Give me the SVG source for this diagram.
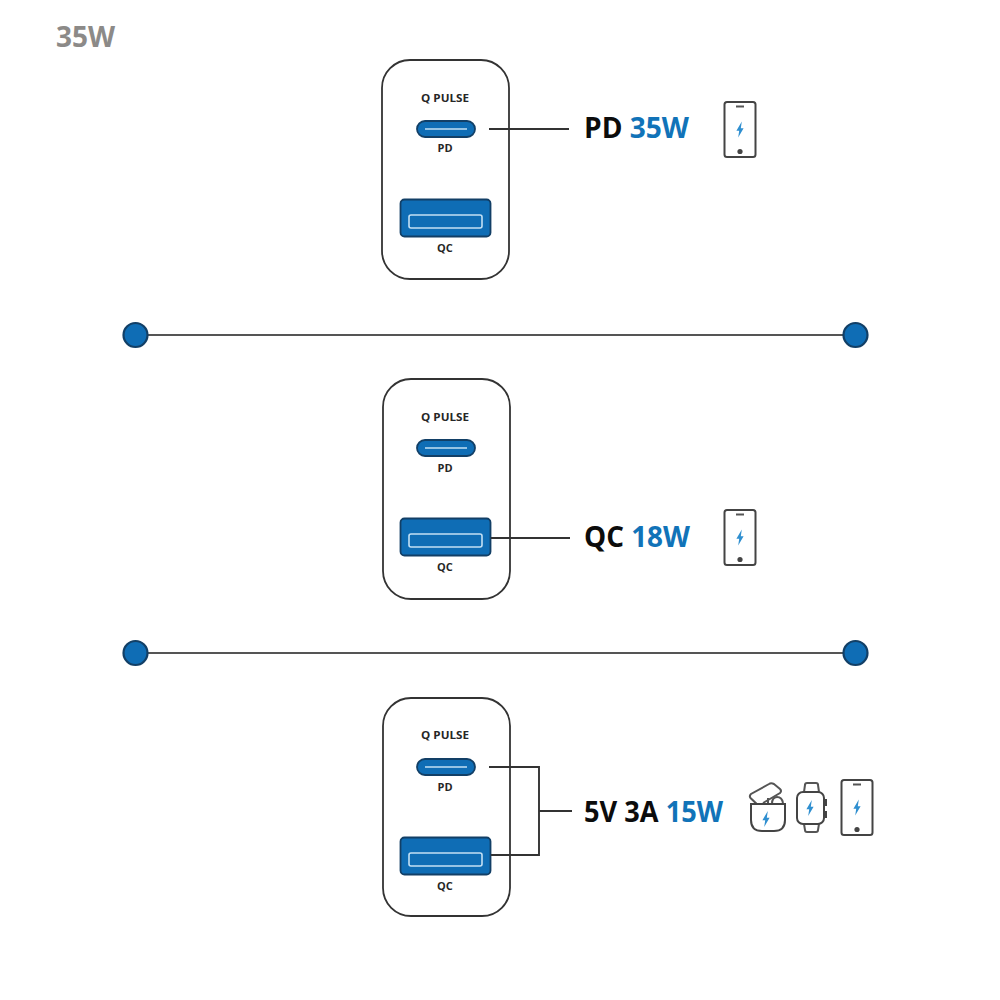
<svg xmlns="http://www.w3.org/2000/svg" width="1000" height="1000" viewBox="0 0 1000 1000">
  <style>
    text { font-family: "Open Sans", "Noto Sans", sans-serif; font-weight: 700; }
    .title { font-size: 28px; fill: #8c8a88; }
    .port { font-size: 11px; fill: #262626; text-anchor: middle; }
    .big { font-size: 29px; fill: #0c0c0c; }
    .big .w { fill: #1173b8; }
    .body { fill: #fff; stroke: #333; stroke-width: 1.8; }
    .fill { fill: #0f6db5; stroke: #123f66; stroke-width: 1.8; }
    .slot { fill: none; stroke: #c3e0f4; stroke-width: 1.6; }
    .link { fill: none; stroke: #333; stroke-width: 1.9; }
    .rule { stroke: #555; stroke-width: 2.2; }
    .dot { fill: #0f6db5; stroke: #123f66; stroke-width: 2.2; }
    .icon { fill: #fff; stroke: #444; stroke-width: 2; }
    .thin { fill: none; stroke: #555; stroke-width: 2; }
    .bolt { fill: #2f8fd0; }
  </style>
  <defs>
    <path id="bolt" class="bolt" d="M1.800-8 -3.600 1.200 -0.800 1.200 -1.800 8 3.600-1.200 0.800-1.200Z"/>
    <g id="phone">
      <rect class="icon" x="0" y="0" width="31" height="55" rx="2.500"/>
      <path class="thin" d="M11.500 4.500H19.500"/>
      <circle cx="15.500" cy="49.500" r="2.600" fill="#444"/>
      <use href="#bolt" x="15.500" y="27.500"/>
    </g>
  </defs>

  <text class="title" x="56" y="47">35W</text>

  <g id="separators">
    <g id="separator-1">
      <path class="rule" d="M148 335H843"/>
      <circle class="dot" cx="135.500" cy="335" r="12"/>
      <circle class="dot" cx="855.500" cy="335" r="12"/>
    </g>
    <g id="separator-2">
      <path class="rule" d="M148 653H843"/>
      <circle class="dot" cx="135.500" cy="653" r="12"/>
      <circle class="dot" cx="855.500" cy="653" r="12"/>
    </g>
  </g>

  <g id="charger-1">
    <rect class="body" x="382" y="60" width="127" height="219" rx="28"/>
    <text class="port" x="445" y="102" textLength="48" lengthAdjust="spacingAndGlyphs">Q PULSE</text>
    <rect class="fill" x="417" y="121" width="58" height="16" rx="8"/>
    <path class="slot" d="M425 129H467"/>
    <text class="port" x="445" y="152">PD</text>
    <rect class="fill" x="400.500" y="199.500" width="90" height="37" rx="4"/>
    <rect class="slot" x="409" y="215" width="73" height="13" rx="2"/>
    <text class="port" x="445" y="252">QC</text>
  </g>
  <g id="charger-2">
    <rect class="body" x="383" y="379" width="127" height="220" rx="28"/>
    <text class="port" x="445" y="421" textLength="48" lengthAdjust="spacingAndGlyphs">Q PULSE</text>
    <rect class="fill" x="417" y="440" width="58" height="16" rx="8"/>
    <path class="slot" d="M425 448H467"/>
    <text class="port" x="445" y="472">PD</text>
    <rect class="fill" x="400.500" y="518.500" width="90" height="37" rx="4"/>
    <rect class="slot" x="409" y="534" width="73" height="13" rx="2"/>
    <text class="port" x="445" y="571">QC</text>
  </g>
  <g id="charger-3">
    <rect class="body" x="383" y="698" width="127" height="218" rx="28"/>
    <text class="port" x="445" y="739" textLength="48" lengthAdjust="spacingAndGlyphs">Q PULSE</text>
    <rect class="fill" x="417" y="759" width="58" height="16" rx="8"/>
    <path class="slot" d="M425 767H467"/>
    <text class="port" x="445" y="791">PD</text>
    <rect class="fill" x="400.500" y="837.500" width="90" height="37" rx="4"/>
    <rect class="slot" x="409" y="853" width="73" height="13" rx="2"/>
    <text class="port" x="445" y="890">QC</text>
  </g>

  <g id="connectors">
    <path class="link" d="M489 129H569"/>
    <path class="link" d="M491 538H570"/>
    <path class="link" d="M489 767H539V855H491M539 811H572"/>
  </g>

  <g id="label-pd">
    <text class="big" x="584" y="138" textLength="105" lengthAdjust="spacingAndGlyphs">PD <tspan class="w">35W</tspan></text>
  </g>
  <g id="label-qc">
    <text class="big" x="584" y="547" textLength="106" lengthAdjust="spacingAndGlyphs">QC <tspan class="w">18W</tspan></text>
  </g>
  <g id="label-shared">
    <text class="big" x="584" y="822" textLength="139" lengthAdjust="spacingAndGlyphs">5V 3A <tspan class="w">15W</tspan></text>
  </g>

  <g id="phone-1"><use href="#phone" x="724.500" y="102"/></g>
  <g id="phone-2"><use href="#phone" x="724.500" y="510"/></g>
  <g id="phone-3"><use href="#phone" x="841.500" y="780"/></g>

  <g id="earbuds">
    <path class="thin" d="M760 807 750.500 798Q749 796 751 794L769 784Q771 782.500 774 784L780 789Q782 791 780 793L763 803"/>
    <path class="thin" d="M768 804V798M772 804Q772 797 777 797T783 803"/>
    <path class="icon" d="M751 804H785V820Q785 831 774 831H762Q751 831 751 820Z"/>
    <use href="#bolt" x="766" y="819"/>
  </g>
  <g id="watch">
    <path class="thin" d="M804 792 805 785Q805 783 807 783H816Q818 783 818 785L819 792M804 824 805 830Q805 832 807 832H816Q818 832 818 830L819 824"/>
    <rect class="icon" x="797" y="792" width="27" height="32" rx="6"/>
    <path d="M825.500 799V806M825.500 811V818" fill="none" stroke="#444" stroke-width="3"/>
    <use href="#bolt" x="810" y="808"/>
  </g>
</svg>
